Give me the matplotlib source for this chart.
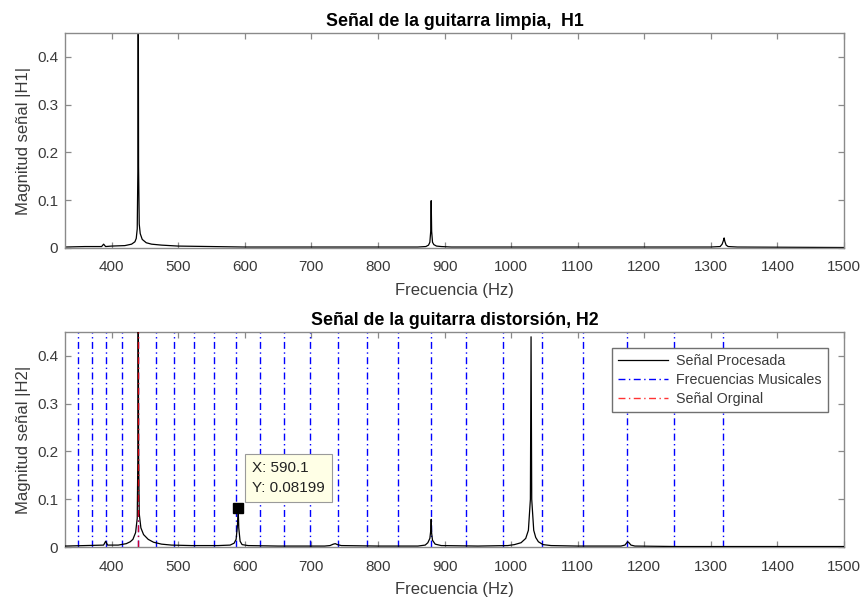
import matplotlib
matplotlib.use('Agg')
import matplotlib.pyplot as plt

plt.rcParams['font.family'] = ['Liberation Sans', 'DejaVu Sans']

# ---------------- data ----------------
freq_h1 = [330, 360, 385, 388, 391, 400, 420, 430, 435, 437, 438.5, 439.5, 440, 440.5,
           441.5, 443, 446, 452, 460, 475, 500, 550, 600, 700, 800, 860, 872, 876, 878,
           879.3, 880, 880.7, 882, 884, 888, 895, 910, 1000, 1200, 1300, 1314, 1317,
           1319, 1320, 1321, 1323, 1326, 1340, 1500]
mag_h1 = [0.002, 0.003, 0.003, 0.008, 0.003, 0.004, 0.005, 0.008, 0.013, 0.02, 0.04,
          0.17, 0.62, 0.17, 0.05, 0.03, 0.018, 0.011, 0.008, 0.006, 0.004, 0.003, 0.002,
          0.002, 0.002, 0.002, 0.003, 0.006, 0.012, 0.035, 0.099, 0.035, 0.012, 0.007,
          0.004, 0.003, 0.002, 0.002, 0.002, 0.002, 0.003, 0.008, 0.016, 0.021, 0.014,
          0.006, 0.003, 0.002, 0.001]

freq_h2 = [330, 360, 388, 391, 394, 410, 422, 428, 432, 436, 438.5, 439.5, 440, 440.5,
           441.5, 444, 448, 455, 463, 475, 490, 520, 560, 578, 584, 587, 589, 590.1, 591,
           593, 596, 605, 650, 720, 728, 733, 736, 739, 745, 800, 860, 871, 875, 878,
           879.4, 880, 880.6, 882, 886, 895, 950, 995, 1005, 1015, 1022, 1026, 1029,
           1030, 1031, 1034, 1037, 1041, 1048, 1060, 1100, 1165, 1171, 1175, 1177, 1180,
           1186, 1250, 1400, 1500]
mag_h2 = [0.002, 0.003, 0.004, 0.012, 0.004, 0.004, 0.007, 0.011, 0.016, 0.03, 0.06,
          0.2, 0.62, 0.2, 0.07, 0.04, 0.026, 0.016, 0.01, 0.006, 0.004, 0.003, 0.003,
          0.004, 0.008, 0.016, 0.045, 0.082, 0.04, 0.012, 0.005, 0.003, 0.002, 0.002,
          0.003, 0.006, 0.007, 0.005, 0.003, 0.002, 0.002, 0.004, 0.009, 0.018, 0.035,
          0.058, 0.03, 0.014, 0.006, 0.003, 0.002, 0.003, 0.005, 0.009, 0.018, 0.035,
          0.1, 0.44, 0.1, 0.035, 0.02, 0.011, 0.005, 0.003, 0.002, 0.002, 0.004, 0.011,
          0.009, 0.004, 0.002, 0.001, 0.001, 0.001]

musical_freqs = [349.23, 369.99, 392.00, 415.30, 440.00, 466.16, 493.88, 523.25,
                 554.37, 587.33, 622.25, 659.26, 698.46, 739.99, 783.99, 830.61,
                 880.00, 932.33, 987.77, 1046.50, 1108.73, 1174.66, 1244.51, 1318.51]
original_freq = 440.0

tip_x = 590.1
tip_y = 0.08199

xticks = [400, 500, 600, 700, 800, 900, 1000, 1100, 1200, 1300, 1400, 1500]
yticks = [0, 0.1, 0.2, 0.3, 0.4]
ytick_labels = ['0', '0.1', '0.2', '0.3', '0.4']

titles = ['Señal de la guitarra limpia,  H1', 'Señal de la guitarra distorsión, H2']
ylabels = ['Magnitud señal |H1|', 'Magnitud señal |H2|']
xlabel = 'Frecuencia (Hz)'
legend_labels = ['Señal Procesada', 'Frecuencias Musicales', 'Señal Orginal']

# ---------------- figure ----------------
fig = plt.figure(figsize=(8.62, 5.99), dpi=100)
ax1 = fig.add_axes([0.0754, 0.5860, 0.9037, 0.3589])
ax2 = fig.add_axes([0.0754, 0.0868, 0.9037, 0.3589])

spine_c = '#8a8a8a'
text_c = '#3a3a3a'

def style(ax, title, ylab):
    ax.set_xlim(330, 1500)
    ax.set_ylim(0, 0.45)
    ax.set_xticks(xticks)
    ax.set_yticks(yticks)
    ax.set_yticklabels(ytick_labels)
    for s in ax.spines.values():
        s.set_color(spine_c)
        s.set_linewidth(1.0)
    ax.tick_params(direction='in', top=True, right=True, length=4.5, width=0.9,
                   color=spine_c, labelcolor=text_c, labelsize=11)
    ax.tick_params(axis='x', pad=9)
    ax.tick_params(axis='y', pad=5)
    ax.set_title(title, fontsize=12.8, fontweight='bold', pad=5, color='black')
    ax.set_ylabel(ylab, fontsize=12, color=text_c, labelpad=4)
    ax.set_xlabel(xlabel, fontsize=12, color=text_c, labelpad=6)

ax1.plot(freq_h1, mag_h1, color='black', lw=0.9)
style(ax1, titles[0], ylabels[0])

dash = (0, (5, 2.5, 1, 2.5))
h_sig, = ax2.plot(freq_h2, mag_h2, color='black', lw=0.9, zorder=3)
h_mus = None
for f in musical_freqs:
    h_mus = ax2.axvline(f, color='#0000ff', lw=1.0, linestyle=dash, zorder=2)
h_org = ax2.axvline(original_freq, color='#ff0000', lw=1.0, linestyle=dash, zorder=4, alpha=0.8)
style(ax2, titles[1], ylabels[1])

ax2.plot([tip_x], [tip_y], marker='s', color='black', markersize=7.5, zorder=6,
         linestyle='none')
ax2.annotate(f'X: {tip_x}\nY: {tip_y}', xy=(tip_x, tip_y), xytext=(10, 9),
             textcoords='offset points', ha='left', va='bottom', fontsize=11,
             color='#222222', linespacing=1.6, zorder=7,
             bbox=dict(boxstyle='square,pad=0.45', fc='#ffffe6', ec='#9a9a9a', lw=0.8))

leg = ax2.legend([h_sig, h_mus, h_org], legend_labels, loc='upper right',
                 bbox_to_anchor=(0.979, 0.925), fontsize=10.3, frameon=True, fancybox=False,
                 edgecolor='#707070', framealpha=1, handlelength=3.5, borderpad=0.4,
                 labelspacing=0.35, handletextpad=0.6, borderaxespad=0)
leg.get_frame().set_linewidth(1.0)
for t in leg.get_texts():
    t.set_color(text_c)

fig.savefig('out.png', dpi=100)
